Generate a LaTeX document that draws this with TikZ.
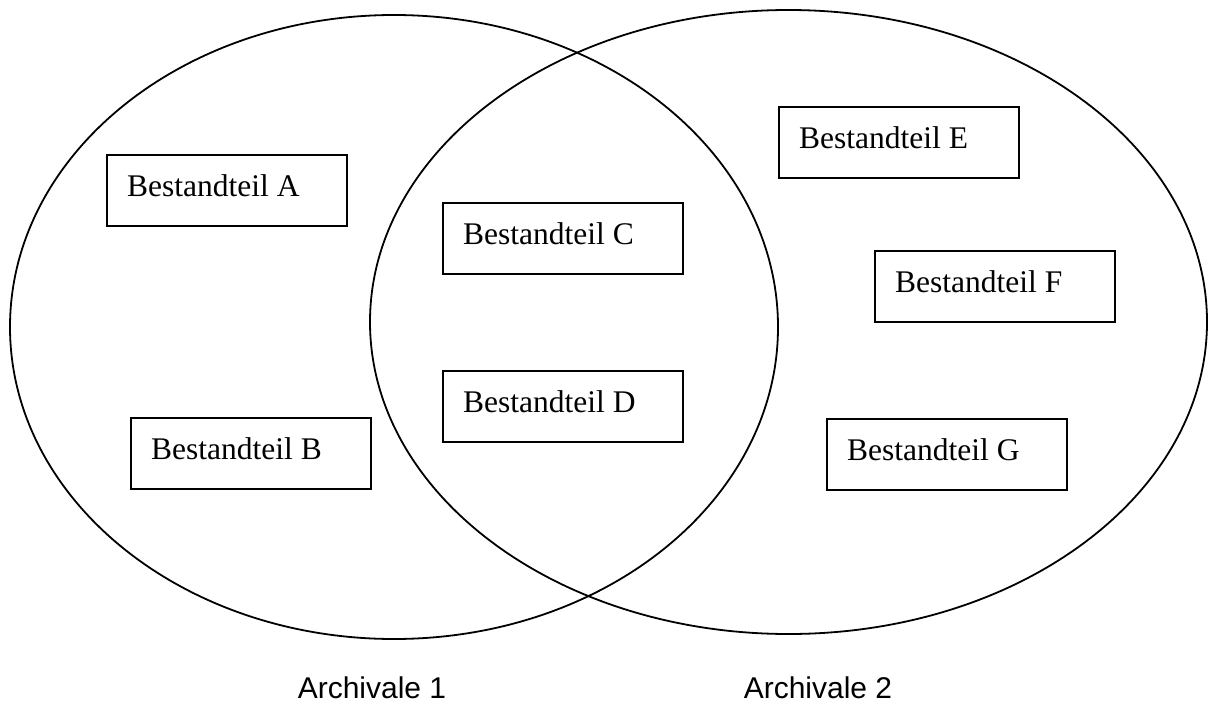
\documentclass[tikz,border=0pt]{standalone}
\usepackage{fontspec}
\setmainfont{Liberation Serif}
\newfontfamily\labelfont{Liberation Sans}
\begin{document}
\begin{tikzpicture}[x=1pt,y=-1pt,
  ring/.style={draw=black, line width=1.8pt},
  partbox/.style={draw=black, line width=1.8pt, rectangle, minimum width=240pt, minimum height=71pt, inner sep=0pt, anchor=north west},
  parttext/.style={anchor=base west, inner sep=0pt, font=\fontsize{31.5pt}{36pt}\selectfont},
  settext/.style={anchor=base, inner sep=0pt, font=\labelfont\fontsize{30pt}{34pt}\selectfont}]
\useasboundingbox (0,0) rectangle (1209,706);
\draw[ring] (394,327) ellipse [x radius=384pt, y radius=312pt];
\draw[ring] (788.5,322) ellipse [x radius=418.5pt, y radius=312pt];
\node[partbox] (A) at (106,154) {};
\node[partbox] (B) at (130,417) {};
\node[partbox] (C) at (442,202) {};
\node[partbox] (D) at (442,370) {};
\node[partbox] (E) at (778,106) {};
\node[partbox] (F) at (874,250) {};
\node[partbox] (G) at (826,418) {};
\foreach \n/\t in {A/A,B/B,C/C,D/D,E/E,F/F,G/G}
  \node[parttext] (t\n) at ([xshift=21pt,yshift=-42pt]\n.north west) {Bestandteil \t};
\node[settext] (s1) at (372,698) {Archivale 1};
\node[settext] (s2) at (818,698) {Archivale 2};
\end{tikzpicture}
\end{document}
